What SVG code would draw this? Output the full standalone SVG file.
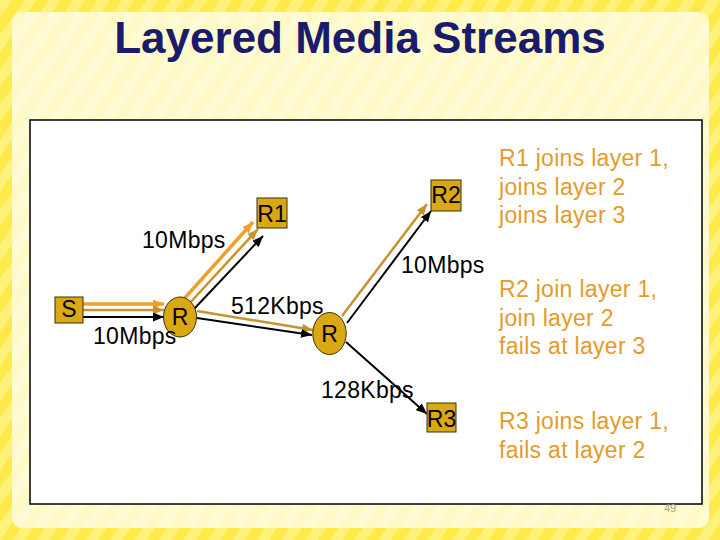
<svg xmlns="http://www.w3.org/2000/svg" width="720" height="540" viewBox="0 0 720 540">
  <defs>
    <pattern id="stripes" patternUnits="userSpaceOnUse" width="20" height="20" patternTransform="rotate(35)">
      <rect width="20" height="20" fill="#FFEA4A"/>
      <rect width="10" height="20" fill="#FFF27A"/>
    </pattern>
    <pattern id="stripes2" patternUnits="userSpaceOnUse" width="20" height="20" patternTransform="rotate(35)">
      <rect width="20" height="20" fill="#FFFBD4"/>
      <rect width="10" height="20" fill="#FFF9C8"/>
    </pattern>
    <marker id="aO" markerUnits="userSpaceOnUse" markerWidth="12" markerHeight="9" refX="11" refY="4.5" orient="auto">
      <path d="M0,0 L11,4.5 L0,9 z" fill="#F0A028"/>
    </marker>
    <marker id="aT" markerUnits="userSpaceOnUse" markerWidth="12" markerHeight="9" refX="11" refY="4.5" orient="auto">
      <path d="M0,0 L11,4.5 L0,9 z" fill="#C8922E"/>
    </marker>
    <marker id="aK" markerUnits="userSpaceOnUse" markerWidth="12" markerHeight="9" refX="11" refY="4.5" orient="auto">
      <path d="M0,0 L11,4.5 L0,9 z" fill="#000"/>
    </marker>
  </defs>
  <style>
    .node { fill: #DAA812; stroke: #3A3000; stroke-width: 1; }
    .nlabel { font-family: "Liberation Sans", Arial, sans-serif; font-size: 23px; fill: #000; text-anchor: middle; }
    .elabel { font-family: "Liberation Sans", Arial, sans-serif; font-size: 23px; fill: #000; letter-spacing: 0.3px; }
    .note { font-family: "Liberation Sans", Arial, sans-serif; font-size: 23px; fill: #E49B2A; letter-spacing: 0.3px; }
    .orange { stroke: #F0A028; stroke-width: 3.5; fill: none; marker-end: url(#aO); }
    .tan { stroke: #C8922E; stroke-width: 2.5; fill: none; marker-end: url(#aT); }
    .black { stroke: #000; stroke-width: 2; fill: none; marker-end: url(#aK); }
  </style>

  <rect x="0" y="0" width="720" height="540" fill="url(#stripes)"/>
  <rect x="12" y="12" width="697" height="516" rx="10" fill="url(#stripes2)"/>
  <text x="360" y="53" font-family="Liberation Sans, Arial, sans-serif" font-size="44" font-weight="bold" fill="#1B1B6B" text-anchor="middle">Layered Media Streams</text>
  <rect x="30" y="120" width="672" height="384" fill="#FFFFFF" stroke="#000" stroke-width="1.5"/>

  <g id="connectors">
    <line class="orange" x1="83" y1="304" x2="164" y2="304"/>
    <line class="tan" x1="83" y1="310" x2="164" y2="310"/>
    <line class="black" x1="83" y1="317" x2="164" y2="317"/>
    <line class="orange" x1="183" y1="300" x2="253" y2="222"/>
    <line class="tan" x1="188" y1="305" x2="258" y2="229"/>
    <line class="black" x1="194" y1="309" x2="263" y2="236"/>
    <line class="tan" x1="197" y1="311" x2="313" y2="330"/>
    <line class="black" x1="197" y1="318" x2="312" y2="335"/>
    <line class="tan" x1="342" y1="316" x2="427" y2="204"/>
    <line class="black" x1="347" y1="323" x2="431" y2="211"/>
    <line class="black" x1="346" y1="342" x2="427" y2="414"/>
  </g>

  <g id="node-S">
    <rect class="node" x="55" y="297" width="28" height="26"/>
    <text class="nlabel" x="69" y="317">S</text>
  </g>
  <g id="node-R-left">
    <ellipse class="node" cx="180" cy="317" rx="16.5" ry="20"/>
    <text class="nlabel" x="180" y="325">R</text>
  </g>
  <g id="node-R1">
    <rect class="node" x="257" y="198" width="30" height="30"/>
    <text class="nlabel" x="272" y="222">R1</text>
  </g>
  <g id="node-R2">
    <rect class="node" x="431" y="180" width="30" height="31"/>
    <text class="nlabel" x="446" y="203">R2</text>
  </g>
  <g id="node-R-mid">
    <ellipse class="node" cx="329.5" cy="333.5" rx="16.7" ry="21"/>
    <text class="nlabel" x="329.5" y="342">R</text>
  </g>
  <g id="node-R3">
    <rect class="node" x="427" y="403" width="29" height="29"/>
    <text class="nlabel" x="441.5" y="427">R3</text>
  </g>

  <g id="edge-labels">
    <text class="elabel" x="142" y="248">10Mbps</text>
    <text class="elabel" x="93" y="344">10Mbps</text>
    <text class="elabel" x="401" y="273">10Mbps</text>
    <text class="elabel" x="231" y="314">512Kbps</text>
    <text class="elabel" x="321" y="398">128Kbps</text>
  </g>

  <g id="notes">
    <text class="note" x="499" y="166">R1 joins layer 1,</text>
    <text class="note" x="499" y="195">joins layer 2</text>
    <text class="note" x="499" y="223">joins layer 3</text>
    <text class="note" x="499" y="297">R2 join layer 1,</text>
    <text class="note" x="499" y="326">join layer 2</text>
    <text class="note" x="499" y="354">fails at layer 3</text>
    <text class="note" x="499" y="429">R3 joins layer 1,</text>
    <text class="note" x="499" y="458">fails at layer 2</text>
  </g>

  <text x="670" y="512" font-family="Liberation Sans, Arial, sans-serif" font-size="11" fill="#A0A0A0" text-anchor="middle">49</text>
</svg>
